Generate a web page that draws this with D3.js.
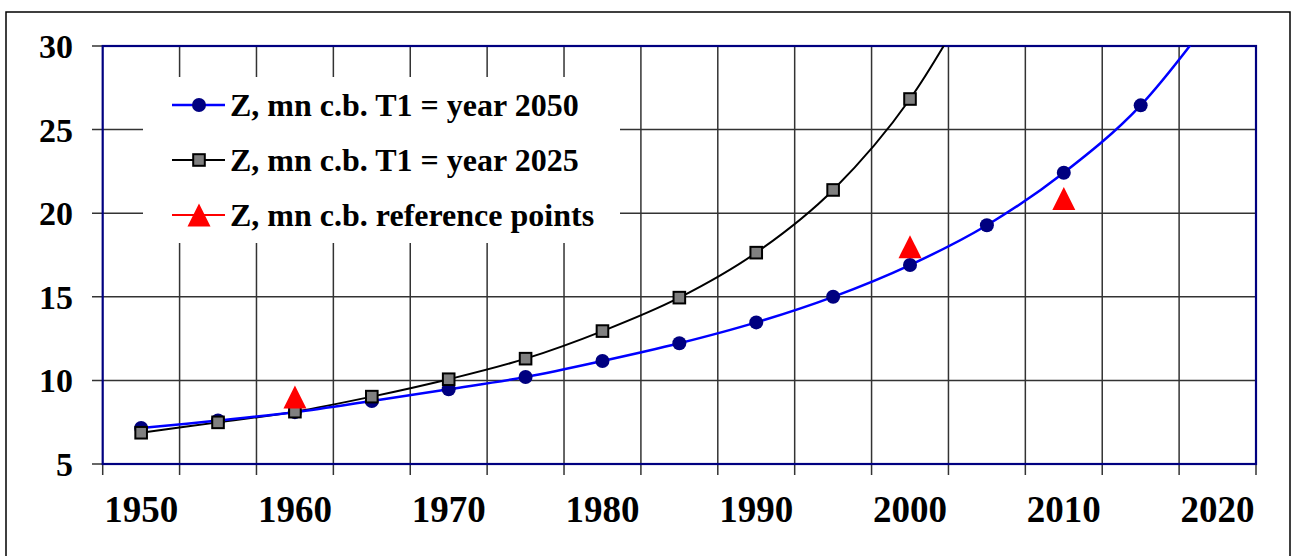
<!DOCTYPE html>
<html><head><meta charset="utf-8">
<script src="https://cdn.jsdelivr.net/npm/d3@7"></script>
<style>
html,body{margin:0;padding:0;background:#fff;}
</style></head>
<body><svg id="c" width="1294" height="556"></svg>
<script>
// ---- data ----
const categories = [1950,1955,1960,1965,1970,1975,1980,1985,1990,1995,2000,2005,2010,2015,2020];
const xTickLabels = ["1950","1960","1970","1980","1990","2000","2010","2020"];
const yTicks = [5,10,15,20,25,30];
const seriesNames = ["Z, mn c.b. T1 = year 2050","Z, mn c.b. T1 = year 2025","Z, mn c.b. reference points"];
const z2050 = [7.15,7.6,8.1,8.77,9.47,10.2,11.16,12.22,13.47,15.0,16.9,19.28,22.42,26.45,32.2];
const z2025Years = [1950,1955,1960,1965,1970,1975,1980,1985,1990,1995,2000,2005];
const z2025 = [6.87,7.49,8.13,9.03,10.07,11.3,12.95,14.95,17.64,21.39,26.83,34.5];
const refYears = [1960,2000,2010];
const refValues = [9.0,18.0,20.88];

// ---- layout ----
const FONT = "Liberation Serif";
const svg = d3.select("#c");
const L = 102.7, R = 1256, T = 46, B = 464;
const x = d3.scaleBand().domain(categories).range([L,R]).padding(0);
const cx = v => x(v) + x.bandwidth()/2;
const y = d3.scaleLinear().domain([5,30]).range([B,T]);

// outer frame
svg.append("rect").attr("x",6).attr("y",12).attr("width",1284).attr("height",560)
  .attr("fill","none").attr("stroke","#000").attr("stroke-width",1.5);

const grid = svg.append("g").attr("stroke","#333").attr("stroke-width",1.5);
yTicks.forEach(t=>{
  grid.append("line").attr("x1",92).attr("x2",(t===5||t===30)?L:R).attr("y1",y(t)).attr("y2",y(t));
});
categories.concat([null]).forEach((c,i)=>{
  const xx = c===null ? R : x(c);
  grid.append("line").attr("x1",xx).attr("x2",xx).attr("y1",(i===0||c===null)?B:T).attr("y2",B+11);
});

svg.append("rect").attr("x",L).attr("y",T).attr("width",R-L).attr("height",B-T)
  .attr("fill","none").attr("stroke","#000080").attr("stroke-width",2.2);

svg.append("g").selectAll("text").data(yTicks).join("text")
  .attr("x",73).attr("y",d=>y(d)).attr("dy","0.35em").attr("text-anchor","end")
  .attr("font-family",FONT).attr("font-weight","bold")
  .attr("font-size",34).attr("fill","#000").text(d=>d);
svg.append("g").selectAll("text").data(xTickLabels).join("text")
  .attr("x",d=>cx(+d)).attr("y",522).attr("text-anchor","middle")
  .attr("font-family",FONT).attr("font-weight","bold")
  .attr("font-size",37).attr("fill","#000").text(d=>d);

svg.append("clipPath").attr("id","pc").append("rect").attr("x",L).attr("y",T).attr("width",R-L).attr("height",B-T);
const plot = svg.append("g").attr("clip-path","url(#pc)");

const line = d3.line().curve(d3.curveCardinal.tension(0));
plot.append("path").attr("d",line(z2025Years.map((c,i)=>[cx(c),y(z2025[i])])))
  .attr("fill","none").attr("stroke","#000").attr("stroke-width",2);
plot.append("path").attr("d",line(categories.map((c,i)=>[cx(c),y(z2050[i])])))
  .attr("fill","none").attr("stroke","#0000ff").attr("stroke-width",2.5);

const circ = (g,px,py)=>g.append("circle").attr("cx",px).attr("cy",py).attr("r",7).attr("fill","#000080");
const sq = (g,px,py)=>g.append("rect").attr("x",px-5.8).attr("y",py-5.8).attr("width",11.6).attr("height",11.6)
  .attr("fill","#808080").attr("stroke","#000").attr("stroke-width",2);
const tri = (g,px,py)=>g.append("path").attr("d",`M${px},${py-11.5}L${px+11.5},${py+11.5}L${px-11.5},${py+11.5}Z`).attr("fill","#ff0000");

categories.forEach((c,i)=>{ if(z2050[i]<=30) circ(plot,cx(c),y(z2050[i])); });
z2025Years.forEach((c,i)=>{ if(z2025[i]<=30) sq(plot,cx(c),y(z2025[i])); });
refYears.forEach((c,i)=>tri(plot,cx(c),y(refValues[i])));

const lg = svg.append("g");
lg.append("rect").attr("x",143).attr("y",77).attr("width",477).attr("height",166).attr("fill","#fff");
const rows = [105,160,215];
const colors = ["#0000ff","#000","#ff0000"];
rows.forEach((ry,i)=>{
  lg.append("line").attr("x1",172).attr("x2",225).attr("y1",ry).attr("y2",ry)
    .attr("stroke",colors[i]).attr("stroke-width",i===0?2.5:2);
  if(i===0) circ(lg,199,ry); else if(i===1) sq(lg,199,ry); else tri(lg,199,ry);
  lg.append("text").attr("x",230).attr("y",ry).attr("dy","0.35em").attr("font-size",32)
    .attr("font-family",FONT).attr("font-weight","bold")
    .attr("fill","#000").text(seriesNames[i]);
});
</script></body></html>
